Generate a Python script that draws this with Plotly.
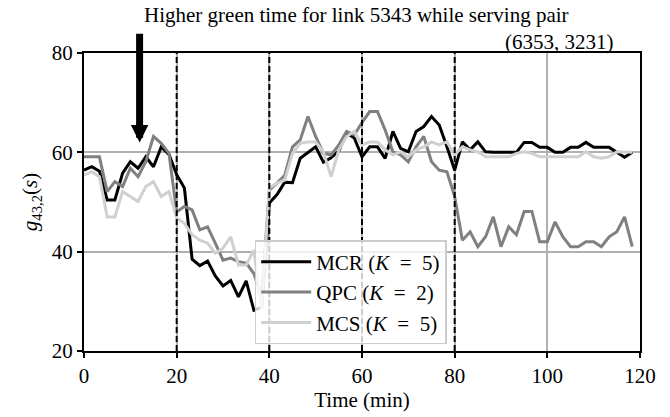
import plotly.graph_objects as go

# Sampling: one value every 100 s over 2 h (in minutes)
time_min = [i * 100 / 60 for i in range(72)]

mcr = [56.4, 57.1, 56.2, 50.4, 50.4, 55.8, 58.1, 56.8, 59.1, 57.1, 61.1, 59.6,
       55.5, 52.8, 38.5, 37.2, 38.1, 35.1, 33.1, 34.2, 30.9, 34.1, 28.2, 28.8,
       49.8, 51.5, 54.0, 53.9, 58.8, 60.0, 61.1, 58.0, 58.9, 60.3, 63.9, 62.9,
       59.1, 61.1, 61.1, 58.8, 64.2, 60.8, 60.1, 64.2, 65.2, 67.2, 65.5, 61.1,
       56.4, 62.1, 60.5, 62.1, 60.1, 60.0, 60.0, 60.0, 60.0, 62.0, 62.0, 61.0,
       61.0, 60.0, 60.0, 61.0, 61.0, 62.0, 61.0, 61.0, 61.0, 60.0, 59.0, 60.0]

qpc = [59.1, 59.1, 59.1, 52.1, 54.1, 53.1, 56.8, 55.1, 58.1, 63.2, 61.8, 59.8,
       48.0, 49.1, 48.4, 44.4, 45.0, 41.7, 38.3, 38.7, 38.0, 37.7, 35.6, 31.0,
       52.4, 53.8, 55.4, 61.1, 62.5, 67.2, 63.2, 59.8, 59.5, 61.5, 64.2, 63.5,
       66.0, 68.2, 68.2, 64.5, 60.1, 59.5, 58.1, 61.1, 63.2, 58.1, 56.4, 56.1,
       51.1, 42.3, 44.0, 41.0, 43.0, 47.0, 41.0, 45.0, 43.4, 48.1, 48.1, 42.0,
       42.0, 46.0, 43.0, 41.0, 41.0, 42.0, 42.0, 41.0, 43.0, 44.0, 47.0, 41.0]

mcs = [55.4, 56.1, 55.1, 47.0, 47.0, 52.1, 51.1, 50.1, 53.1, 54.1, 51.1, 52.1,
       46.8, 45.7, 43.4, 42.3, 41.7, 39.7, 40.7, 43.0, 37.3, 37.3, 40.3, 28.5,
       52.8, 53.8, 54.4, 59.8, 61.8, 62.1, 62.1, 60.1, 55.1, 60.5, 63.2, 64.2,
       61.5, 62.1, 62.1, 60.5, 59.5, 60.1, 59.1, 60.5, 61.1, 62.1, 61.5, 62.1,
       59.5, 61.1, 60.5, 60.1, 59.1, 59.1, 59.1, 59.1, 59.8, 60.1, 59.8, 59.1,
       59.1, 59.1, 59.1, 59.1, 59.1, 60.1, 59.1, 58.8, 59.1, 60.1, 60.1, 60.0]

series_names = ["MCR (<i>K</i>&nbsp;&nbsp;=&nbsp;&nbsp;5)",
                "QPC (<i>K</i>&nbsp;&nbsp;=&nbsp;&nbsp;2)",
                "MCS (<i>K</i>&nbsp;&nbsp;=&nbsp;&nbsp;5)"]
series_colors = ["#000000", "#808080", "#d0d0d0"]
phase_boundaries = [20, 40, 60, 80]
x_ticks = [0, 20, 40, 60, 80, 100, 120]
y_ticks = [20, 40, 60, 80]
arrow_time = 12
arrow_tip = 62
arrow_tail = 84.2

FONT = "Liberation Serif"
FS = 21

fig = go.Figure()
for name, vals, col in zip(series_names, [mcr, qpc, mcs], series_colors):
    fig.add_trace(go.Scatter(x=time_min, y=vals, mode="lines", name=name,
                             line=dict(color=col, width=3)))

for b in phase_boundaries:
    fig.add_shape(type="line", xref="x", yref="paper", x0=b, x1=b, y0=0, y1=1,
                  line=dict(color="black", width=2, dash="6px,3px"), layer="above")

fig.add_annotation(x=arrow_time, y=arrow_tip, ax=arrow_time, ay=arrow_tail,
                   xref="x", yref="y", axref="x", ayref="y", text="",
                   showarrow=True, arrowhead=2, arrowsize=0.5, arrowwidth=7,
                   arrowcolor="black", standoff=0)
fig.add_annotation(x=0.49, y=1.0, xref="paper", yref="paper", yshift=38,
                   text="Higher green time for link 5343 while serving pair",
                   showarrow=False, font=dict(family=FONT, size=FS, color="black"),
                   xanchor="center", yanchor="middle")
fig.add_annotation(x=0.957, y=1.0, xref="paper", yref="paper", yshift=11,
                   text="(6353, 3231)", showarrow=False,
                   font=dict(family=FONT, size=FS, color="black"),
                   xanchor="right", yanchor="middle")

fig.update_layout(
    width=670, height=417,
    margin=dict(l=84, r=30, t=53, b=66),
    paper_bgcolor="white", plot_bgcolor="white",
    font=dict(family=FONT, size=FS, color="black"),
    showlegend=True,
    legend=dict(x=0.307, y=0.372, xanchor="left", yanchor="top",
                bgcolor="rgba(255,255,255,0.8)", bordercolor="#cccccc",
                borderwidth=1.5, font=dict(family=FONT, size=FS, color="black"),
                tracegroupgap=0, itemwidth=50),
)
fig.update_xaxes(range=[0, 120], tickvals=x_ticks, showgrid=True, automargin=False,
                 gridcolor="#b0b0b0", gridwidth=1.5, zeroline=False,
                 showline=True, linecolor="black", linewidth=2, mirror=True,
                 ticks="outside", ticklen=5, tickwidth=1.5, tickcolor="black",
                 tickfont=dict(family=FONT, size=FS, color="black"),
                 title=dict(text="Time (min)", font=dict(family=FONT, size=FS, color="black"),
                            standoff=1))
fig.update_yaxes(range=[20, 80], tickvals=y_ticks, showgrid=True, automargin=False,
                 gridcolor="#b0b0b0", gridwidth=1.5, zeroline=False,
                 showline=True, linecolor="black", linewidth=2, mirror=True,
                 ticks="outside", ticklen=5, tickwidth=1.5, tickcolor="black",
                 tickfont=dict(family=FONT, size=FS, color="black"),
                 title=dict(text="<i>g</i><sub>43,2</sub>(<i>s</i>)",
                            font=dict(family=FONT, size=FS, color="black"), standoff=8))

fig.write_html("out.html")
